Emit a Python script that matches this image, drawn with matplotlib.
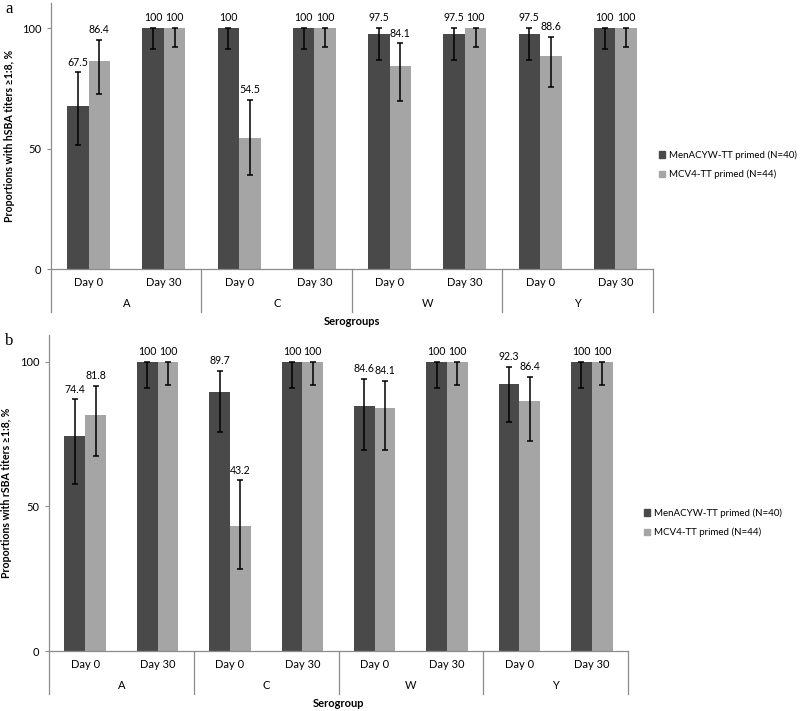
import matplotlib
matplotlib.use("Agg")
import matplotlib.pyplot as plt
from matplotlib.patches import Patch

plt.rcParams["font.family"] = ["Lato", "DejaVu Sans"]

# --- data -------------------------------------------------------------
groups = ["A", "C", "W", "Y"]
days = ["Day 0", "Day 30"]
series = ["MenACYW-TT primed (N=40)", "MCV4-TT primed (N=44)"]

# panel a: hSBA, order A d0, A d30, C d0, C d30, W d0, W d30, Y d0, Y d30
hsba_men = [67.5, 100, 100, 100, 97.5, 97.5, 97.5, 100]
hsba_men_lo = [51.3, 91.2, 91.2, 91.2, 86.8, 86.7, 86.8, 91.2]
hsba_men_hi = [81.6, 100, 100, 100, 99.9, 99.9, 99.9, 100]
hsba_mcv = [86.4, 100, 54.5, 100, 84.1, 100, 88.6, 100]
hsba_mcv_lo = [72.8, 92.0, 38.9, 92.0, 69.9, 92.0, 75.4, 92.0]
hsba_mcv_hi = [95.0, 100, 70.1, 100, 93.6, 100, 96.3, 100]

# panel b: rSBA
rsba_men = [74.4, 100, 89.7, 100, 84.6, 100, 92.3, 100]
rsba_men_lo = [57.9, 91.0, 75.8, 91.0, 69.5, 91.0, 79.1, 91.0]
rsba_men_hi = [87.0, 100, 97.0, 100, 94.0, 100, 98.2, 100]
rsba_mcv = [81.8, 100, 43.2, 100, 84.1, 100, 86.4, 100]
rsba_mcv_lo = [67.3, 91.9, 28.3, 91.9, 69.6, 91.9, 72.6, 91.9]
rsba_mcv_hi = [91.8, 100, 59.0, 100, 93.3, 100, 94.7, 100]

DARK = "#494949"
LIGHT = "#a5a5a5"
AXIS = "#8c8c8c"
W, H = 800, 711
FS = 8


def panel(ax, men, men_lo, men_hi, mcv, mcv_lo, mcv_hi, ylabel, xlabel, ymax):
    n = len(groups) * len(days)
    xs = [i + 0.5 for i in range(n)]
    bw = 0.287
    for vals, lo, hi, off, col in [(men, men_lo, men_hi, -bw / 2, DARK),
                                   (mcv, mcv_lo, mcv_hi, bw / 2, LIGHT)]:
        pos = [x + off for x in xs]
        err = [[v - l for v, l in zip(vals, lo)], [h - v for v, h in zip(vals, hi)]]
        ax.bar(pos, vals, width=bw, color=col, zorder=2)
        ax.errorbar(pos, vals, yerr=err, fmt="none", ecolor="black",
                    elinewidth=1.1, capsize=2.3, capthick=1.1, zorder=3)
        for p, v, h in zip(pos, vals, hi):
            ax.annotate(f"{v:g}", (p, h), xytext=(0, 3.5), textcoords="offset points",
                        ha="center", va="bottom", fontsize=7.6)

    ax.set_xlim(0, n)
    ax.set_ylim(0, ymax)
    ax.set_yticks([0, 50, 100])
    ax.tick_params(axis="y", length=3, width=0.8, color=AXIS, labelsize=FS, pad=4)
    ax.set_xticks([])
    for s in ["top", "right"]:
        ax.spines[s].set_visible(False)
    for s in ["left", "bottom"]:
        ax.spines[s].set_color(AXIS)
        ax.spines[s].set_linewidth(0.9)

    # category axis below the plot
    hpx = ax.get_position().height * H
    depth = 43 / hpx
    for gx in range(0, n + 1, 2):
        ax.plot([gx, gx], [0, -depth], transform=ax.get_xaxis_transform(),
                color=AXIS, lw=0.9, clip_on=False)
    for i, x in enumerate(xs):
        ax.annotate(days[i % 2], (x, 0), xycoords=("data", "axes fraction"),
                    xytext=(0, -10), textcoords="offset points",
                    ha="center", va="center", fontsize=FS)
    for j, g in enumerate(groups):
        ax.annotate(g, (2 * j + 1, 0), xycoords=("data", "axes fraction"),
                    xytext=(0, -25), textcoords="offset points",
                    ha="center", va="center", fontsize=FS)
    ax.annotate(xlabel, (0.5, 0), xycoords="axes fraction",
                xytext=(0, -37.5), textcoords="offset points",
                ha="center", va="center", fontsize=FS, fontweight="bold")
    ax.set_ylabel(ylabel, fontsize=7.6, fontweight="bold")


fig = plt.figure(figsize=(W / 100, H / 100), dpi=100)
ax_a = fig.add_axes([51 / W, 1 - 269 / H, 602 / W, 266 / H])
ax_b = fig.add_axes([49 / W, 1 - 651 / H, 579 / W, 316 / H])

panel(ax_a, hsba_men, hsba_men_lo, hsba_men_hi, hsba_mcv, hsba_mcv_lo, hsba_mcv_hi,
      "Proportions with hSBA titers \u22651:8, %", "Serogroups", 110.4)
panel(ax_b, rsba_men, rsba_men_lo, rsba_men_hi, rsba_mcv, rsba_mcv_lo, rsba_mcv_hi,
      "Proportions with rSBA titers \u22651:8, %", "Serogroup", 109.3)
ax_a.yaxis.set_label_coords(-36 / 602, 0.5)
ax_b.yaxis.set_label_coords(-37 / 579, 0.5)

handles = [Patch(color=DARK), Patch(color=LIGHT)]
for ax, (lx, ly) in [(ax_a, (659, 165)), (ax_b, (644, 523))]:
    fig.legend(handles, series, loc="center left",
               bbox_to_anchor=(lx / W, 1 - ly / H), frameon=False,
               fontsize=7.0, handlelength=0.65, handleheight=0.65,
               handletextpad=0.35, labelspacing=1.0, borderaxespad=0,
               borderpad=0)

fig.text(5 / W, 1 - 9 / H, "a", family="Liberation Serif", fontsize=12, va="center")
fig.text(5 / W, 1 - 341 / H, "b", family="Liberation Serif", fontsize=12, va="center")

fig.savefig("out.png", dpi=100)
